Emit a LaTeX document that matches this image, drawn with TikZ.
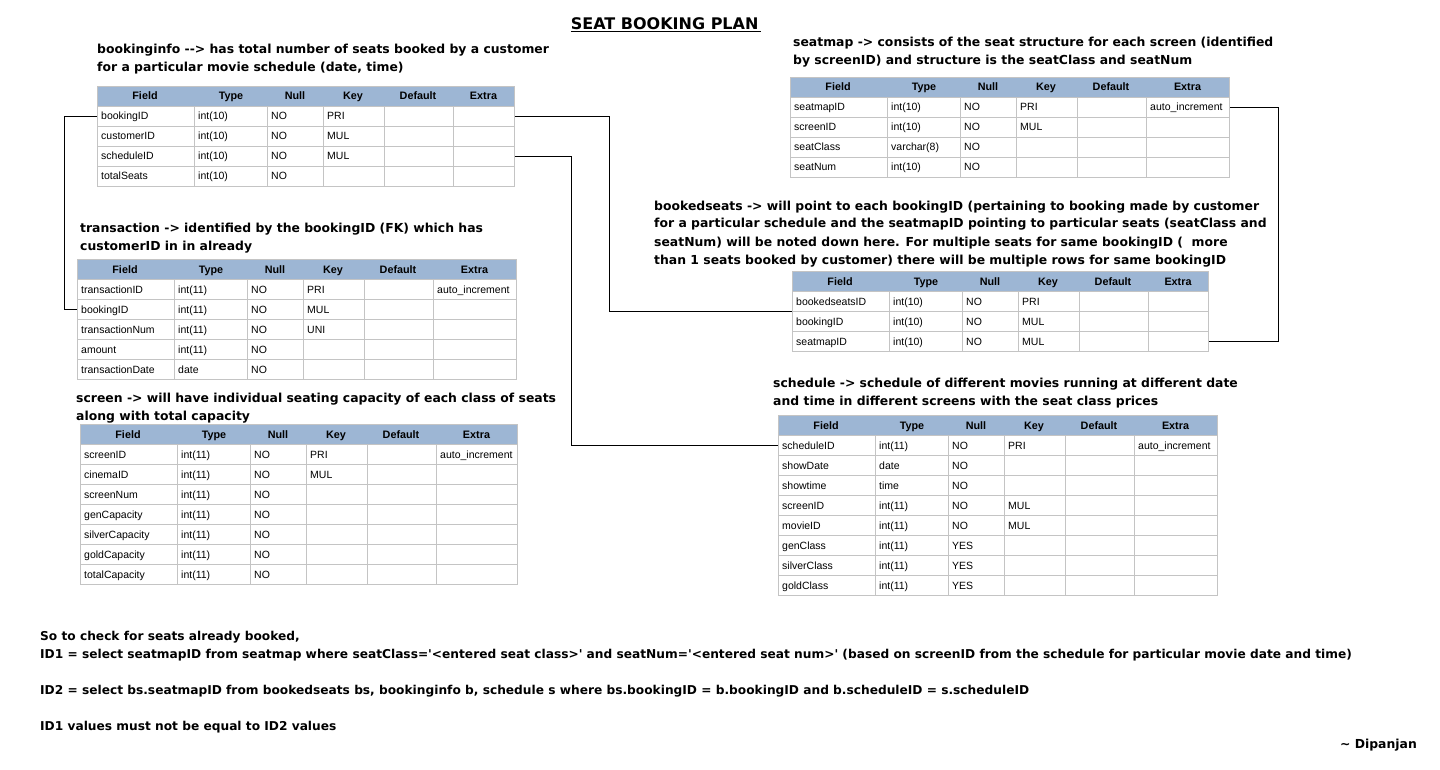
\documentclass[tikz,border=0pt]{standalone}
\usepackage{fontspec}
\setmainfont{Liberation Sans}
\newfontfamily\notefont{DejaVu Sans}
\usetikzlibrary{positioning}

\definecolor{hdrblue}{HTML}{9DB6D4}
\definecolor{gridgray}{HTML}{C4C4C4}

\tikzset{
    hdrbox/.style={draw=gridgray, line width=1pt, fill=hdrblue, minimum height=20, inner sep=0, anchor=north west},
    rowbox/.style={draw=gridgray, line width=1pt, minimum height=20, inner sep=0, anchor=north west},
    hdrtxt/.style={font=\fontsize{10.8}{12}\selectfont\bfseries, anchor=base, inner sep=0},
    celltxt/.style={font=\fontsize{10.5}{12}\selectfont, anchor=base west, inner sep=0},
    note/.style={font=\notefont\fontsize{12.4}{18}\selectfont\bfseries, align=left, anchor=base west, inner sep=0},
    link/.style={draw=black, line width=1pt},
}

% name, x, top, width, rows (field/type/null/key/extra)
\newcommand{\dbtable}[5]{%
    \node[hdrbox, minimum width=#4] (#1-h) at (#2,#3) {};
    \foreach \lbl/\cx [count=\c] in {Field/48,Type/134,Null/198,Key/256,Default/321}
        \node[hdrtxt] (#1-h\c) at (#2+\cx,#3+14) {\lbl};
    \node[hdrtxt] (#1-h6) at ({#2+178+#4/2},#3+14) {Extra};
    \foreach \f/\t/\n/\k/\e [count=\i] in {#5} {
        \node[rowbox, minimum width=#4] (#1-\i) at (#2,#3+20*\i) {};
        \foreach \cx in {97,170,226,287,356}
            \draw[gridgray, line width=1pt] (#2+\cx,#3+20*\i) -- ++(0,20);
        \node[celltxt] (#1-\i-f) at (#2+4,#3+14+20*\i) {\f};
        \node[celltxt] (#1-\i-t) at (#2+101,#3+14+20*\i) {\t};
        \node[celltxt] (#1-\i-n) at (#2+174,#3+14+20*\i) {\n};
        \node[celltxt] (#1-\i-k) at (#2+230,#3+14+20*\i) {\k};
        \node[celltxt] (#1-\i-e) at (#2+360,#3+14+20*\i) {\e};
    }
}

\begin{document}
\begin{tikzpicture}[x=1pt, y=-1pt]
    \fill[white] (0,0) rectangle (1440,770);
    \useasboundingbox (0,0) rectangle (1440,770);

    \node[font=\notefont\fontsize{16}{20}\selectfont\bfseries, inner sep=0] (title) at (666,25) {\underline{SEAT BOOKING PLAN\,}};

    % tables
    \dbtable{bi}{97}{86}{417}{bookingID/int(10)/NO/PRI/, customerID/int(10)/NO/MUL/, scheduleID/int(10)/NO/MUL/, totalSeats/int(10)/NO//}
    \dbtable{sm}{790}{77}{439}{seatmapID/int(10)/NO/PRI/auto\_increment, screenID/int(10)/NO/MUL/, seatClass/varchar(8)/NO//, seatNum/int(10)/NO//}
    \dbtable{tx}{77}{259}{439}{transactionID/int(11)/NO/PRI/auto\_increment, bookingID/int(11)/NO/MUL/, transactionNum/int(11)/NO/UNI/, amount/int(11)/NO//, transactionDate/date/NO//}
    \dbtable{bs}{792}{271}{416}{bookedseatsID/int(10)/NO/PRI/, bookingID/int(10)/NO/MUL/, seatmapID/int(10)/NO/MUL/}
    \dbtable{scr}{80}{424}{437}{screenID/int(11)/NO/PRI/auto\_increment, cinemaID/int(11)/NO/MUL/, screenNum/int(11)/NO//, genCapacity/int(11)/NO//, silverCapacity/int(11)/NO//, goldCapacity/int(11)/NO//, totalCapacity/int(11)/NO//}
    \dbtable{sch}{778}{415}{439}{scheduleID/int(11)/NO/PRI/auto\_increment, showDate/date/NO//, showtime/time/NO//, screenID/int(11)/NO/MUL/, movieID/int(11)/NO/MUL/, genClass/int(11)/YES//, silverClass/int(11)/YES//, goldClass/int(11)/YES//}

    % descriptions (placed by the baseline of their last line)
    \node[note] (bi-note) at (97,72) {bookinginfo -{}-> has total number of seats booked by a customer\\for a particular movie schedule (date, time)};
    \node[note] (sm-note) at (793,65) {seatmap -> consists of the seat structure for each screen (identified\\by screenID) and structure is the seatClass and seatNum};
    \node[note] (tx-note) at (80,251) {transaction -> identified by the bookingID (FK) which has\\customerID in in already};
    \node[note] (bs-note) at (654,264) {bookedseats -> will point to each bookingID (pertaining to booking made by customer\\for a particular schedule and the seatmapID pointing to particular seats (seatClass and\\seatNum) will be noted down here. For multiple seats for same bookingID (\ \ more\\than 1 seats booked by customer) there will be multiple rows for same bookingID};
    \node[note] (scr-note) at (76,420) {screen -> will have individual seating capacity of each class of seats\\along with total capacity};
    \node[note] (sch-note) at (773,405) {schedule -> schedule of different movies running at different date\\and time in different screens with the seat class prices};

    \node[note, font=\notefont\fontsize{12.2}{18}\selectfont\bfseries] (check) at (40,730) {So to check for seats already booked,\\
        ID1 = select seatmapID from seatmap where seatClass=\textquotesingle<entered seat class>\textquotesingle{} and seatNum=\textquotesingle<entered seat num>\textquotesingle{} (based on screenID from the schedule for particular movie date and time)\\[18pt]
        ID2 = select bs.seatmapID from bookedseats bs, bookinginfo b, schedule s where bs.bookingID = b.bookingID and b.scheduleID = s.scheduleID\\[18pt]
        ID1 values must not be equal to ID2 values};
    \node[note, anchor=base east] (sign) at (1417,748) {\textasciitilde{} Dipanjan};

    % links
    \draw[link] (bi-1.west) -- ++(-33,0) |- (tx-2.west);
    \draw[link] (bi-1.east) -- ++(94,0) |- (bs-2.north west);
    \draw[link] (bi-3.east) -- ++(56,0) |- (sch-1.west);
    \draw[link] (sm-1.east) -- ++(48,0) |- (bs-3.east);

\end{tikzpicture}
\end{document}
